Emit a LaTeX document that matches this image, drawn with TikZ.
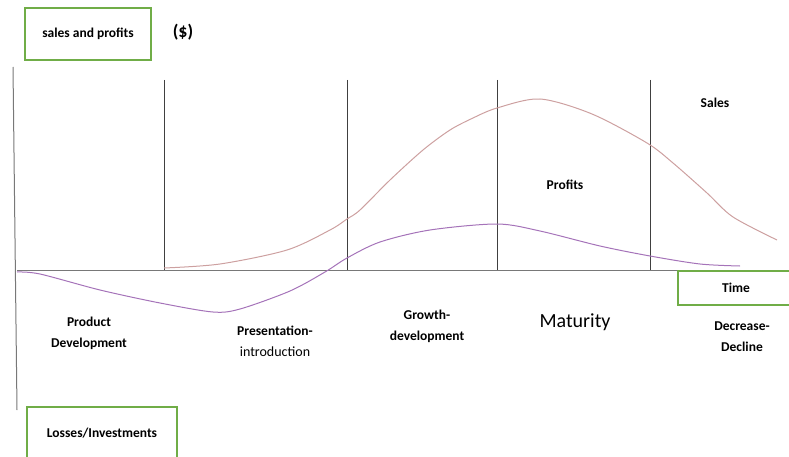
\documentclass[tikz,border=0pt]{standalone}
\usepackage{fontspec}
\setmainfont{Carlito}
\usepackage{tikz}
\usetikzlibrary{calc}

\definecolor{boxgreen}{RGB}{112,173,71}
\definecolor{axisgray}{RGB}{120,120,120}
\definecolor{salescol}{RGB}{205,160,160}
\definecolor{profitcol}{RGB}{165,115,185}

\begin{document}
\begin{tikzpicture}[x=1pt, y=-1pt,
    greenbox/.style={draw=boxgreen, line width=1.6pt, inner sep=0, font=\bfseries\fontsize{13.5}{15}\selectfont},
    lbl/.style={font=\bfseries\fontsize{13.5}{21}\selectfont, align=center},
    divider/.style={draw=black!75, line width=0.8pt}]
    \clip (0,0) rectangle (789,457);
    % axes
    \draw[axisgray, line width=1pt] (13,67) -- (17,410);
    \draw[axisgray, line width=1pt] (17,270) -- (789,270);
    % stage dividers
    \foreach \x in {164,347,497,650}
        \draw[divider] (\x,80) -- (\x,270);
    % curves
    \draw[salescol, line width=1pt] plot[smooth] coordinates {(164,268) (220,264) (287,250) (330,230) (347,219) (360,210) (390,180) (423,150) (450,130) (473,118) (497,108) (540,99) (592,114) (647,143) (673,163) (707,193) (733,217) (777,240)};
    \draw[profitcol, line width=1pt] plot[smooth] coordinates {(17,272) (40,274) (100,290) (160,303) (213,312) (240,309) (290,291) (325,272) (347,258) (380,242) (430,230) (497,224) (540,231) (600,246) (650,256) (700,264) (740,266)};
    % boxes
    \node[greenbox, minimum width=126pt, minimum height=52pt] (salesbox) at (88,34) {sales and profits};
    \node[font=\bfseries\fontsize{18}{20}\selectfont] (dollar) at (183,32) {(\$)};
    \node[greenbox, minimum width=116pt, minimum height=34pt] (timebox) at (736,288) {Time};
    \node[greenbox, minimum width=150pt, minimum height=52pt] (lossbox) at (102,433) {Losses/Investments};
    % labels
    \node[lbl] (sales) at (715,103) {Sales};
    \node[lbl] (profits) at (565,185) {Profits};
    \node[lbl] (product) at (89,333) {Product\\Development};
    \node[lbl] (present) at (275,341) {Presentation-\\{\mdseries\fontsize{14}{21}\selectfont introduction}};
    \node[lbl] (growth) at (427,326) {Growth-\\development};
    \node[font=\fontsize{20}{22}\selectfont] (maturity) at (575,322) {Maturity};
    \node[lbl] (decline) at (742,337) {Decrease-\\Decline};
\end{tikzpicture}
\end{document}
